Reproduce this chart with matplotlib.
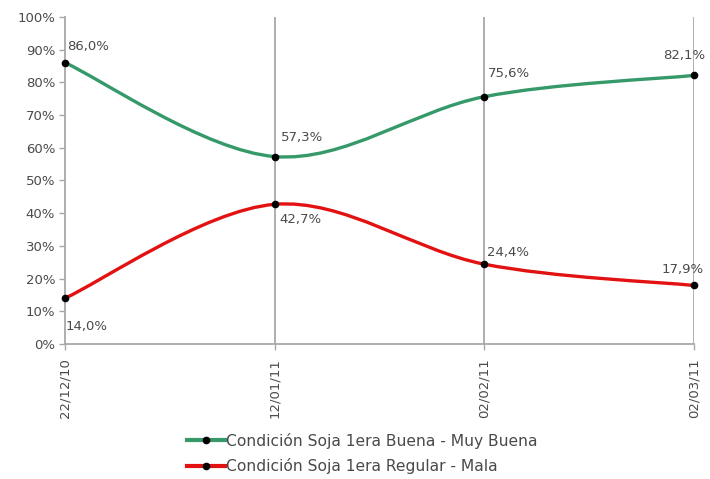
import matplotlib
matplotlib.use("Agg")
import matplotlib.pyplot as plt
from matplotlib.path import Path
from matplotlib.patches import PathPatch
from matplotlib.lines import Line2D
import numpy as np

# Datos
fechas = ["22/12/10", "12/01/11", "02/02/11", "02/03/11"]
buena_muy_buena = [86.0, 57.3, 75.6, 82.1]
regular_mala = [14.0, 42.7, 24.4, 17.9]
label_buena = "Condición Soja 1era Buena - Muy Buena"
label_regular = "Condición Soja 1era Regular - Mala"

GREEN = "#35996a"
RED = "#e31212"
GRID = "#a8a8a8"
TXT = "#4a4a4a"

plt.rcParams["font.family"] = ["DejaVu Sans"]


def smooth_path(xs, ys):
    """Excel-style smoothed line as cubic Bezier segments."""
    xs, ys = np.asarray(xs, float), np.asarray(ys, float)
    n = len(xs)
    verts = [(xs[0], ys[0])]
    codes = [Path.MOVETO]
    for i in range(n - 1):
        p0 = (xs[max(i - 1, 0)], ys[max(i - 1, 0)])
        p1 = (xs[i], ys[i])
        p2 = (xs[i + 1], ys[i + 1])
        p3 = (xs[min(i + 2, n - 1)], ys[min(i + 2, n - 1)])
        c1 = (p1[0] + (p2[0] - p0[0]) / 6, p1[1] + (p2[1] - p0[1]) / 6)
        c2 = (p2[0] - (p3[0] - p1[0]) / 6, p2[1] - (p3[1] - p1[1]) / 6)
        verts += [c1, c2, p2]
        codes += [Path.CURVE4] * 3
    return Path(verts, codes)


fig = plt.figure(figsize=(7.1, 4.79), dpi=100)
ax = fig.add_axes([0.0915, 0.2818, 0.886, 0.683])

x = np.arange(len(fechas))
for xv in x[1:]:
    ax.axvline(xv, color=GRID, linewidth=1.3, zorder=1)

for vals, col in [(buena_muy_buena, GREEN), (regular_mala, RED)]:
    ax.add_patch(PathPatch(smooth_path(x, vals), facecolor="none",
                           edgecolor=col, linewidth=2.4, zorder=3))
    ax.plot(x, vals, linestyle="none", marker="o", markersize=4.5,
            color="black", zorder=4, clip_on=False)

# etiquetas de valores (desplazamiento en píxeles)
offsets_buena = [(2, 16, "left"), (6, 19, "left"), (4, 23, "left"), (11, 20, "right")]
offsets_reg = [(1, -28, "left"), (5, -15, "left"), (3, 12, "left"), (10, 16, "right")]
for vals, offs in [(buena_muy_buena, offsets_buena), (regular_mala, offsets_reg)]:
    for xi, v, (dx, dy, ha) in zip(x, vals, offs):
        ax.annotate(f"{v:.1f}%".replace(".", ","), (xi, v), xytext=(dx, dy),
                    textcoords="offset pixels", ha=ha, va="center",
                    fontsize=9.5, color=TXT, zorder=5, annotation_clip=False)

ax.set_xlim(0, 3)
ax.set_ylim(0, 100)
ax.set_yticks(np.arange(0, 101, 10))
ax.set_yticklabels([f"{v}%" for v in range(0, 101, 10)])
ax.set_xticks(x)
ax.set_xticklabels(fechas, rotation=90)

for side in ["top", "right"]:
    ax.spines[side].set_visible(False)
for side in ["left", "bottom"]:
    ax.spines[side].set_color(GRID)
    ax.spines[side].set_linewidth(1.3)
ax.tick_params(axis="both", colors=GRID, labelcolor=TXT, length=4, width=1)
ax.tick_params(axis="y", labelsize=9.5, pad=3)
ax.tick_params(axis="x", labelsize=9.5, pad=6)

handles = [
    Line2D([], [], color=GREEN, linewidth=3, marker="o", markersize=4.5,
           markerfacecolor="black", markeredgecolor="black"),
    Line2D([], [], color=RED, linewidth=3, marker="o", markersize=4.5,
           markerfacecolor="black", markeredgecolor="black"),
]
fig.legend(handles, [label_buena, label_regular], loc="center",
           bbox_to_anchor=(0.51, 0.053), frameon=False, fontsize=11.2,
           labelcolor=TXT, handlelength=2.5, handletextpad=0.05,
           labelspacing=0.62)

fig.savefig("out.png", dpi=100)
